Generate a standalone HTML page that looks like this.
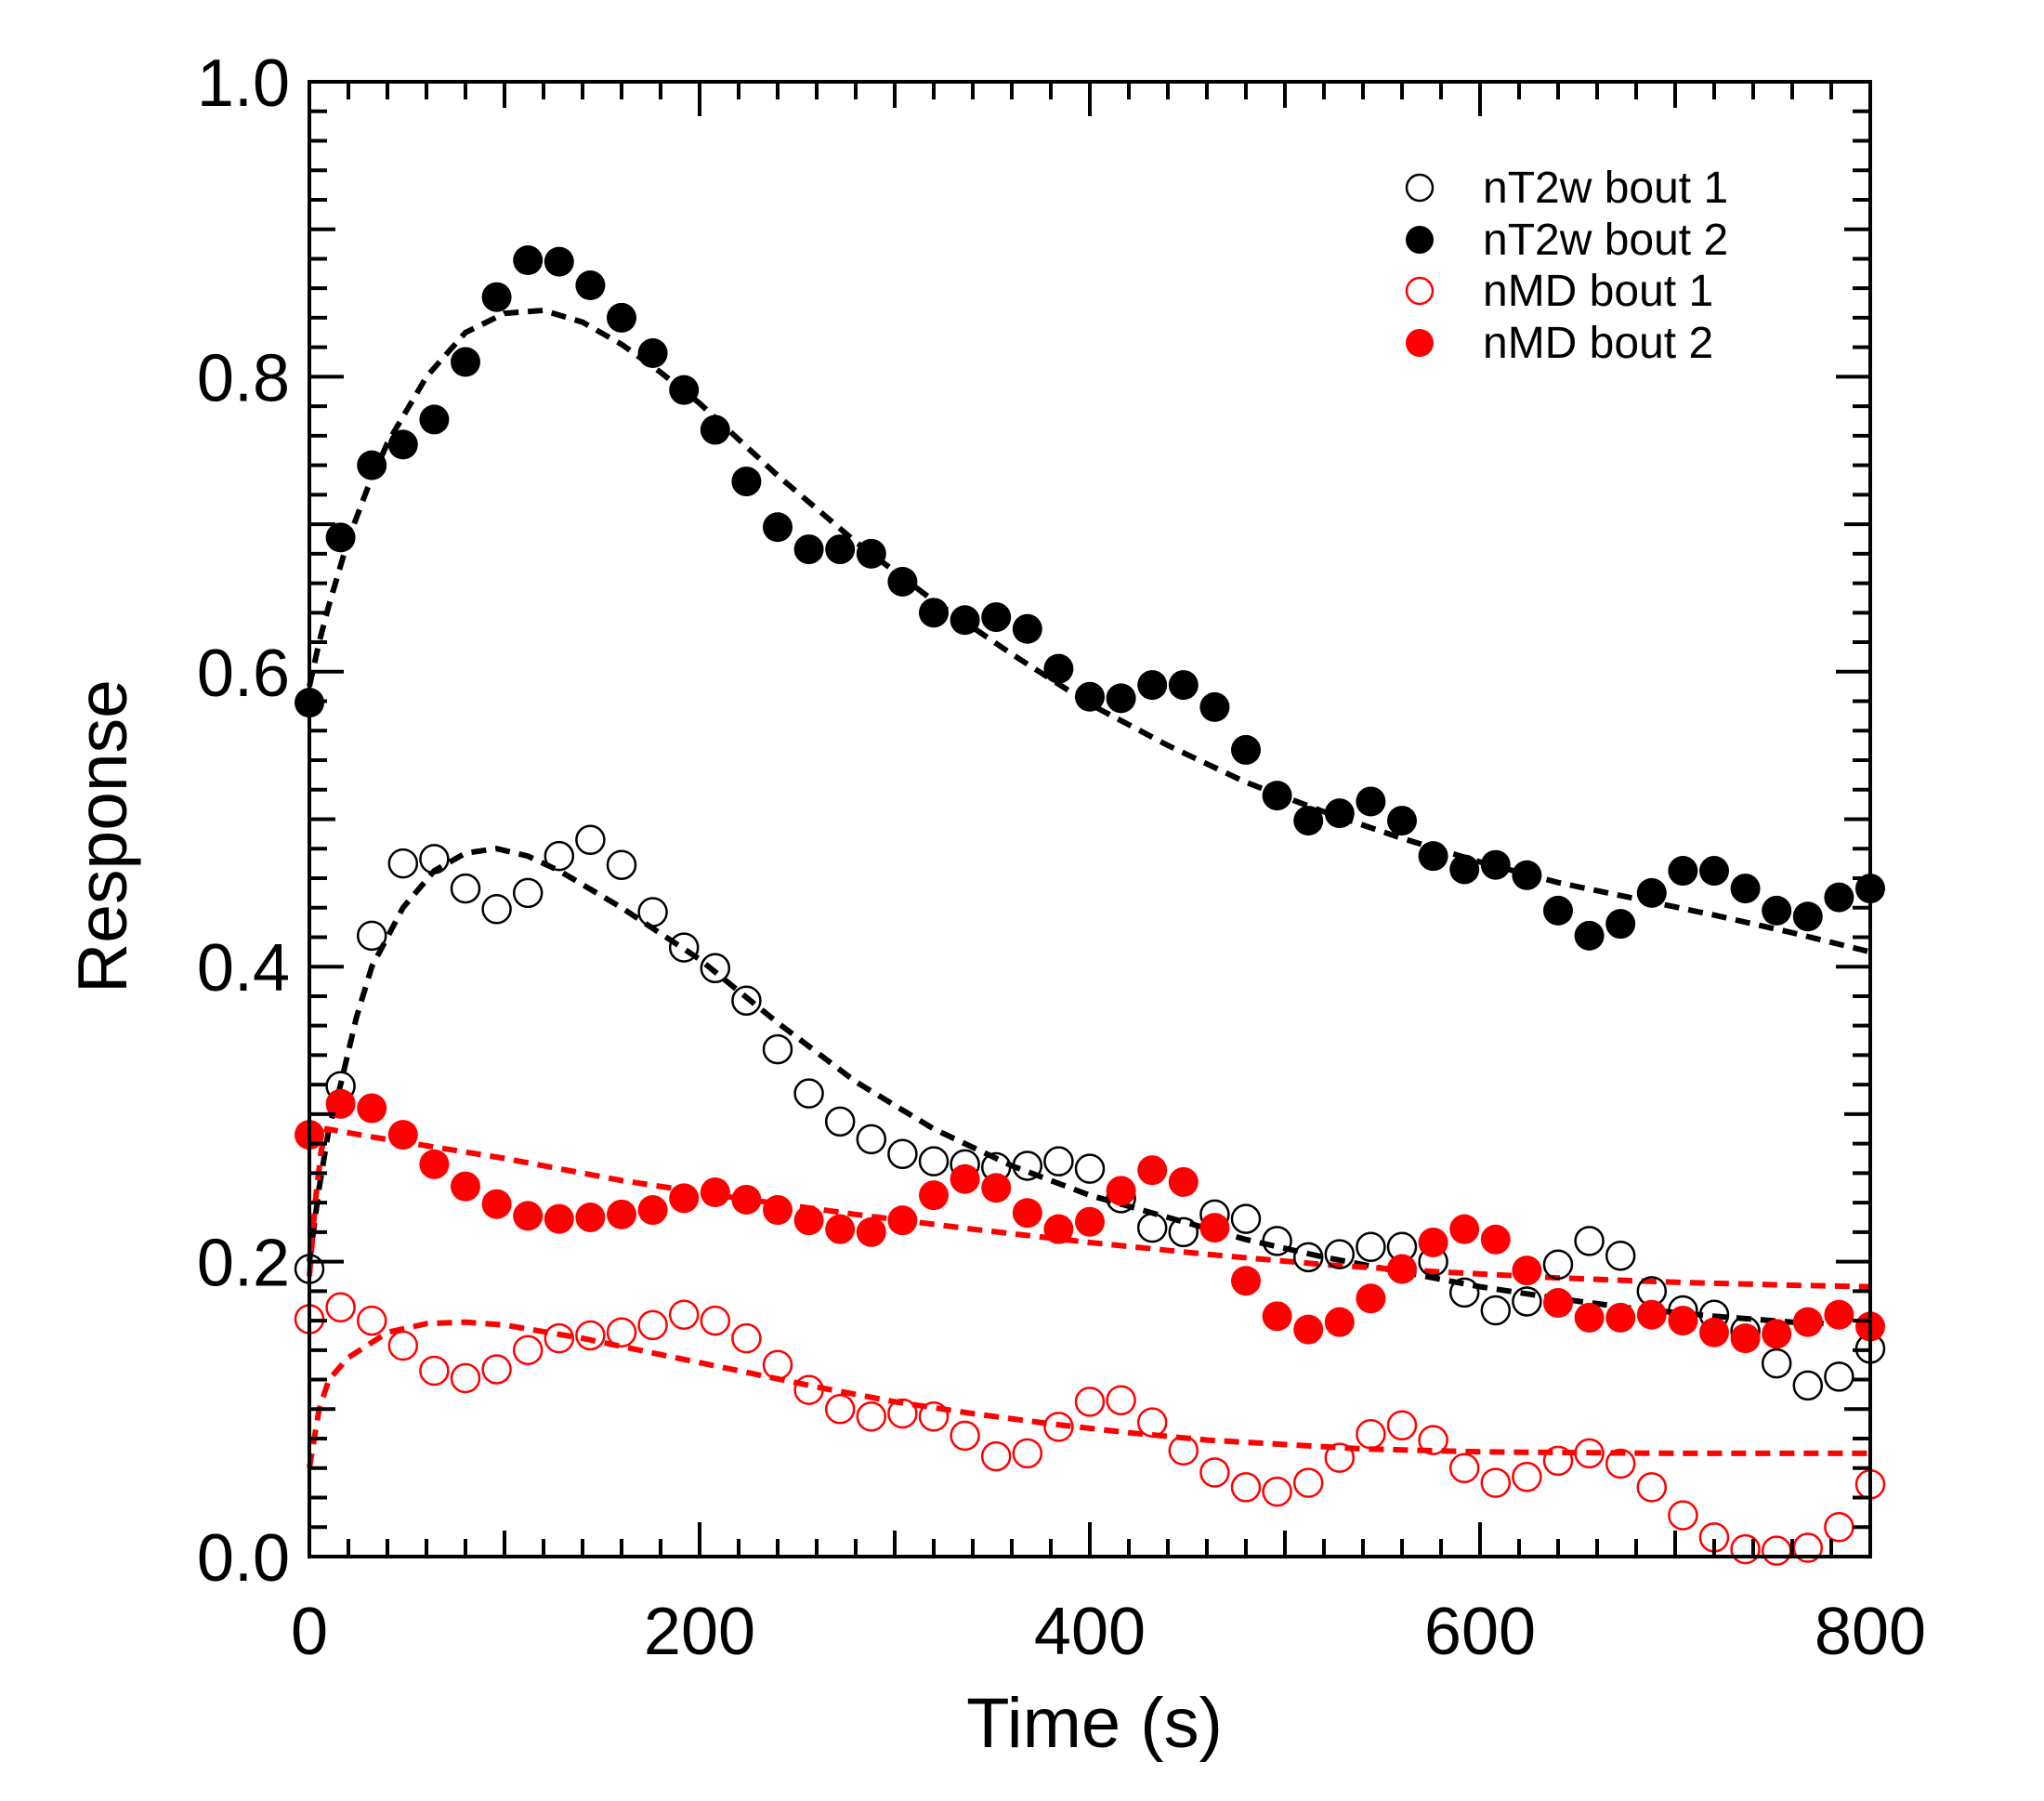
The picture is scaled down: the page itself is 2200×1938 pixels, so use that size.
<!DOCTYPE html>
<html><head><meta charset="utf-8"><style>
html,body{margin:0;padding:0;background:#fff;}
svg{display:block;font-family:"Liberation Sans",Arial,sans-serif;}
</style></head><body>
<svg id="chart" width="2200" height="1938" viewBox="0 0 2200 1938" xmlns="http://www.w3.org/2000/svg">
<rect width="2200" height="1938" fill="#fff"/>
<g id="fits"></g>
<g id="marks"></g>
<g id="axes"></g>
<text x="1178" y="1880" font-size="76" text-anchor="middle">Time (s)</text>
<text transform="translate(136,900) rotate(-90)" font-size="75" text-anchor="middle">Response</text>
<g>
 <g><circle cx="1528" cy="202" r="14" fill="#fff" stroke="#000" stroke-width="2.5"/><text x="1596" y="218" font-size="48">nT2w bout 1</text></g>
 <g><circle cx="1528" cy="258" r="15" fill="#000"/><text x="1596" y="274" font-size="48">nT2w bout 2</text></g>
 <g><circle cx="1528" cy="313" r="14" fill="#fff" stroke="#f00" stroke-width="2.5"/><text x="1596" y="329" font-size="48">nMD bout 1</text></g>
 <g><circle cx="1528" cy="369" r="15" fill="#f00"/><text x="1596" y="385" font-size="48">nMD bout 2</text></g>
</g>
</svg>
<script>
const times = [0,16,32,48,64,80,96,112,128,144,160,176,192,208,224,240,256,272,288,304,320,336,352,368,384,400,416,432,448,464,480,496,512,528,544,560,576,592,608,624,640,656,672,688,704,720,736,752,768,784,800];
const nT2wBout2 = [0.579,0.691,0.740,0.754,0.771,0.810,0.854,0.879,0.878,0.862,0.840,0.816,0.791,0.764,0.729,0.698,0.683,0.683,0.680,0.661,0.640,0.635,0.637,0.629,0.602,0.583,0.582,0.591,0.591,0.576,0.547,0.516,0.499,0.504,0.512,0.499,0.475,0.466,0.469,0.462,0.438,0.421,0.429,0.450,0.465,0.465,0.453,0.438,0.434,0.447,0.453];
const nT2wBout1 = [0.195,0.319,0.421,0.470,0.473,0.453,0.439,0.450,0.475,0.486,0.469,0.437,0.413,0.399,0.377,0.344,0.314,0.295,0.283,0.273,0.268,0.266,0.264,0.265,0.268,0.263,0.243,0.223,0.220,0.232,0.229,0.214,0.203,0.205,0.210,0.210,0.200,0.179,0.167,0.173,0.198,0.214,0.204,0.180,0.167,0.164,0.153,0.131,0.116,0.122,0.141];
const nMDBout2 = [0.286,0.307,0.304,0.286,0.266,0.251,0.239,0.231,0.229,0.230,0.232,0.235,0.243,0.247,0.242,0.235,0.228,0.222,0.220,0.228,0.245,0.256,0.250,0.233,0.222,0.227,0.248,0.262,0.254,0.223,0.187,0.163,0.154,0.159,0.175,0.195,0.213,0.222,0.215,0.194,0.172,0.162,0.162,0.164,0.160,0.152,0.148,0.151,0.159,0.164,0.156];
const nMDBout1 = [0.161,0.169,0.160,0.143,0.126,0.121,0.127,0.140,0.148,0.150,0.152,0.157,0.164,0.160,0.148,0.130,0.113,0.100,0.095,0.097,0.095,0.082,0.068,0.070,0.088,0.105,0.106,0.091,0.072,0.057,0.047,0.044,0.050,0.067,0.083,0.089,0.079,0.060,0.050,0.054,0.065,0.070,0.063,0.047,0.028,0.013,0.005,0.004,0.006,0.020,0.049];
const fitT2w2T = [0,5,10,20,30,40,60,80,100,120,140,160,180,200,240,280,320,360,400,440,480,520,560,600,640,680,720,760,800];
const fitT2w2V = [0.59,0.62,0.645,0.69,0.725,0.755,0.80,0.83,0.843,0.845,0.837,0.822,0.803,0.782,0.733,0.688,0.648,0.612,0.578,0.55,0.525,0.505,0.487,0.471,0.457,0.446,0.435,0.423,0.41];
const fitT2w1T = [0,5,10,16,24,32,48,64,80,96,112,128,160,200,240,280,320,360,400,440,480,520,560,600,640,680,720,760,800];
const fitT2w1V = [0.20,0.25,0.29,0.32,0.365,0.40,0.44,0.465,0.477,0.48,0.475,0.465,0.44,0.405,0.362,0.322,0.29,0.265,0.245,0.23,0.215,0.203,0.193,0.183,0.175,0.168,0.163,0.159,0.157];
const fitMD2T = [0,3,6,9,30,100,160,220,280,340,400,460,520,580,640,700,760,800];
const fitMD2V = [0.19,0.24,0.275,0.29,0.285,0.27,0.255,0.243,0.232,0.222,0.213,0.205,0.198,0.193,0.189,0.186,0.184,0.183];
const fitMD1T = [0,5,10,20,40,60,80,100,140,180,220,260,300,340,380,420,460,500,540,600,700,800];
const fitMD1V = [0.06,0.10,0.12,0.135,0.152,0.158,0.159,0.157,0.148,0.137,0.126,0.115,0.105,0.097,0.09,0.084,0.079,0.076,0.073,0.071,0.07,0.07];
const yTickLabels = ["0.0","0.2","0.4","0.6","0.8","1.0"];
const xTickLabels = ["0","200","400","600","800"];

const L=333,R=2013,T=88,B=1675;
const xs=t=>L+(t/800)*(R-L);
const ys=v=>B-v*(B-T);
const NS="http://www.w3.org/2000/svg";
function mk(tag,parent){const e=document.createElementNS(NS,tag);parent.appendChild(e);return e;}

const fits=document.getElementById('fits');
function fit(T_,V_,col,name){
  const p=mk('path',fits);
  
  
  p.setAttribute('d',T_.map((t,i)=>(i?'L':'M')+xs(t).toFixed(1)+','+ys(V_[i]).toFixed(1)).join(''));
  p.setAttribute('fill','none');p.setAttribute('stroke',col);
  p.setAttribute('stroke-width','6');p.setAttribute('stroke-dasharray','16 10');
}
fit(fitT2w2T,fitT2w2V,'#000','fit-nt2w-bout-2');
fit(fitT2w1T,fitT2w1V,'#000','fit-nt2w-bout-1');
fit(fitMD2T,fitMD2V,'#f00','fit-nmd-bout-2');
fit(fitMD1T,fitMD1V,'#f00','fit-nmd-bout-1');

const marks=document.getElementById('marks');
function series(vals,col,filled,name){
  const g=mk('g',marks);
  
  
  vals.forEach((v,i)=>{
    const c=mk('circle',g);
    
    
    c.setAttribute('cx',xs(times[i]));c.setAttribute('cy',ys(v));
    if(filled){c.setAttribute('r','16');c.setAttribute('fill',col);}
    else{c.setAttribute('r','15');c.setAttribute('fill','none');c.setAttribute('stroke',col);c.setAttribute('stroke-width','2.5');}
  });
}
series(nMDBout1,'#f00',false,'series-nmd-bout-1');
series(nT2wBout1,'#000',false,'series-nt2w-bout-1');
series(nMDBout2,'#f00',true,'series-nmd-bout-2');
series(nT2wBout2,'#000',true,'series-nt2w-bout-2');

const ax=document.getElementById('axes');
const fr=mk('rect',ax);


fr.setAttribute('x',L);fr.setAttribute('y',T);fr.setAttribute('width',R-L);fr.setAttribute('height',B-T);
fr.setAttribute('fill','none');fr.setAttribute('stroke','#000');fr.setAttribute('stroke-width','4');
let d='';
for(let i=0;i<=50;i++){const v=i*0.02;const len=i%10===0?37:(i%5===0?28:19);const y=ys(v);
  d+=`M${L},${y}h${len}M${R},${y}h${-len}`;}
for(let i=0;i<=40;i++){const t=i*20;const len=i%10===0?37:(i%5===0?28:19);const x=xs(t);
  d+=`M${x},${B}v${-len}M${x},${T}v${len}`;}
const tk=mk('path',ax);


tk.setAttribute('d',d);tk.setAttribute('stroke','#000');tk.setAttribute('stroke-width','4');
yTickLabels.forEach((s,i)=>{const t=mk('text',ax);
  
  
  t.setAttribute('x',312);t.setAttribute('y',ys(i*0.2)+26);t.setAttribute('font-size','72');t.setAttribute('text-anchor','end');t.textContent=s;});
xTickLabels.forEach((s,i)=>{const t=mk('text',ax);
  
  
  t.setAttribute('x',xs(i*200));t.setAttribute('y',1780);t.setAttribute('font-size','72');t.setAttribute('text-anchor','middle');t.textContent=s;});
</script>
</body></html>
